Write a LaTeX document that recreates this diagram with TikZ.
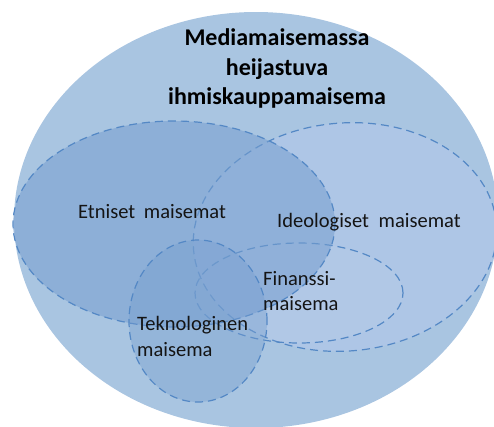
\documentclass[tikz,border=0pt]{standalone}
\usepackage{fontspec}
\setmainfont{Carlito}
\definecolor{outerfill}{RGB}{169,197,225}
\definecolor{ideofill}{RGB}{174,198,230}
\definecolor{darkfill}{RGB}{118,158,207}
\definecolor{dashc}{RGB}{84,136,197}
\definecolor{txtc}{RGB}{20,20,20}
\begin{document}
\begin{tikzpicture}[x=1pt,y=-1pt,
  venn/.style={draw=dashc, line width=1.2pt, dash pattern=on 8pt off 5pt},
  lbl/.style={font=\fontsize{20.5}{26}\selectfont, text=txtc, inner sep=0pt, anchor=base west},
  ttl/.style={font=\fontsize{24}{29.5}\selectfont\bfseries, text=black, inner sep=0pt, anchor=base}]
\useasboundingbox (0,0) rectangle (494,426);
% outer ellipse
\fill[outerfill] (256,220) ellipse [x radius=242pt, y radius=208pt];
% Ideologiset
\path[venn, fill=ideofill, rotate around={5:(345,237)}] (345,237) ellipse [x radius=152pt, y radius=114pt];
% Finanssi
\path[venn, fill=white, fill opacity=0.04] (299,293) ellipse [x radius=104pt, y radius=50pt];
% Etniset
\path[venn, fill=darkfill, fill opacity=0.55] (174,224) ellipse [x radius=161pt, y radius=103pt];
% Teknologinen
\path[venn, fill=darkfill, fill opacity=0.4] (198,321) ellipse [x radius=69pt, y radius=81pt];
% title
\node[ttl] (t1) at (277,45) {Mediamaisemassa};
\node[ttl] (t2) at (277,75) {heijastuva};
\node[ttl] (t3) at (277,104) {ihmiskauppamaisema};
% labels
\node[lbl] (etn) at (78,218) {Etniset\hspace{0.2em} maisemat};
\node[lbl] (ideo) at (277,227) {Ideologiset\hspace{0.25em} maisemat};
\node[lbl] (fin1) at (263,285) {Finanssi-};
\node[lbl] (fin2) at (263,310) {maisema};
\node[lbl] (tek1) at (137,330) {Teknologinen};
\node[lbl] (tek2) at (137,356) {maisema};
\end{tikzpicture}
\end{document}
